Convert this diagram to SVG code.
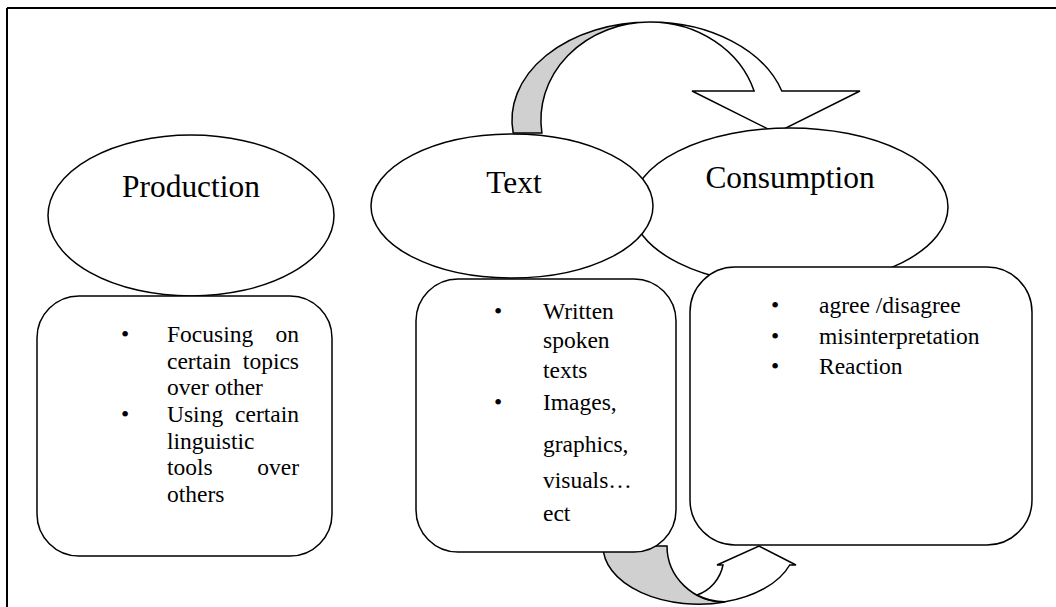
<svg xmlns="http://www.w3.org/2000/svg" width="1056" height="607" viewBox="0 0 1056 607">
<style>
.shape{fill:#fff;stroke:#000;stroke-width:1.5}
.gray{fill:#d0d0d0;stroke:#000;stroke-width:1.5}
.title{font-family:"Liberation Serif","Times New Roman",serif;font-size:31.4px;fill:#000}
.body{font-family:"Liberation Serif","Times New Roman",serif;font-size:23.5px;fill:#000}
.end{text-anchor:end}
.mid{text-anchor:middle}
</style>
<rect width="1056" height="607" fill="#fff"/>
<g id="frame">
<line x1="7" y1="8" x2="1056" y2="8" stroke="#000" stroke-width="2"/>
<line x1="7" y1="8" x2="7" y2="607" stroke="#000" stroke-width="2"/>
</g>
<g id="connectors">
<g id="top-arrow">
<path class="gray" d="M513.2,133 A138,98 0 0 1 650,22 A109,98 0 0 0 541.9,133 Z"/>
<path class="shape" d="M650,22 A138,98 0 0 1 781.8,91 L860,91 L776,133 L692,91 L754.1,91 A109,98 0 0 0 650,22 Z"/>
</g>
<g id="bottom-arrow">
<path class="gray" d="M603,546 L667,546 A58,56 0 0 0 725,602 A96,58 0 0 1 603,546 Z"/>
<path class="shape" d="M697,595 A40,40 0 0 0 723,565 L717,565 L759,546 L796,565 L789.7,565 A96,58 0 0 1 725,601.8 A58,56 0 0 1 697,595 Z"/>
</g>
</g>
<g id="consumption">
<ellipse class="shape" cx="790" cy="207" rx="158" ry="79"/>
<text class="title mid" x="790" y="188">Consumption</text>
</g>
<g id="text">
<ellipse class="shape" cx="512" cy="206" rx="141" ry="72"/>
<text class="title mid" x="514" y="193">Text</text>
</g>
<g id="production">
<ellipse class="shape" cx="191" cy="215.5" rx="143" ry="80.5"/>
<text class="title mid" x="191" y="197">Production</text>
</g>
<g id="production-box">
<rect class="shape" x="37" y="296" width="295" height="260" rx="42" ry="42"/>
<g class="body">
<text x="125" y="342" class="mid">•</text>
<text x="167" y="342">Focusing</text><text x="299" y="342" class="end">on</text>
<text x="167" y="368.7">certain</text><text x="299" y="368.7" class="end">topics</text>
<text x="167" y="395.3">over other</text>
<text x="125" y="422" class="mid">•</text>
<text x="167" y="422">Using</text><text x="299" y="422" class="end">certain</text>
<text x="167" y="448.7">linguistic</text>
<text x="167" y="475.3">tools</text><text x="299" y="475.3" class="end">over</text>
<text x="167" y="502">others</text>
</g>
</g>
<g id="text-box">
<rect class="shape" x="416" y="279" width="260" height="273" rx="42" ry="42"/>
<g class="body">
<text x="498" y="319" class="mid">•</text>
<text x="543" y="319">Written</text>
<text x="543" y="348">spoken</text>
<text x="543" y="378">texts</text>
<text x="498" y="410" class="mid">•</text>
<text x="543" y="410">Images,</text>
<text x="543" y="452">graphics,</text>
<text x="543" y="488">visuals…</text>
<text x="543" y="521">ect</text>
</g>
</g>
<g id="consumption-box">
<rect class="shape" x="690" y="267" width="342" height="278" rx="45" ry="45"/>
<g class="body">
<text x="775" y="313" class="mid">•</text>
<text x="819" y="313">agree /disagree</text>
<text x="775" y="343.5" class="mid">•</text>
<text x="819" y="343.5">misinterpretation</text>
<text x="775" y="374" class="mid">•</text>
<text x="819" y="374">Reaction</text>
</g>
</g>
</svg>
